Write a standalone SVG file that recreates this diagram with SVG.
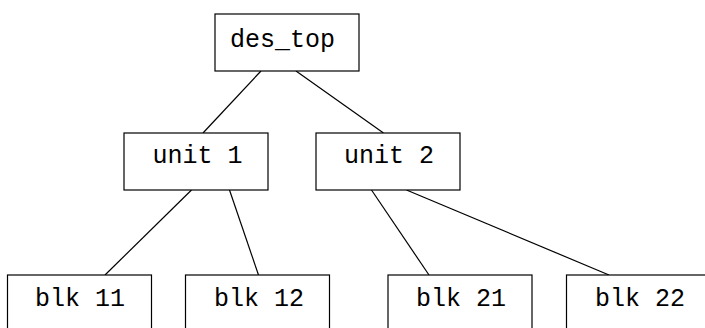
<svg xmlns="http://www.w3.org/2000/svg" width="705" height="328" viewBox="0 0 705 328">
<style>
.box{fill:#fff;stroke:#000;stroke-width:1.2}
.lbl{font-family:"Liberation Mono","Courier New",monospace;font-size:25px;fill:#000}
.conn line{stroke:#000;stroke-width:1.2}
</style>
<rect width="705" height="328" fill="#fff"/>
<g id="connectors" class="conn">
<line x1="261" y1="71" x2="203" y2="133"/>
<line x1="296" y1="71" x2="383.5" y2="133"/>
<line x1="191.5" y1="190" x2="105" y2="275"/>
<line x1="229.5" y1="190" x2="258.5" y2="275"/>
<line x1="371.5" y1="190" x2="429" y2="275"/>
<line x1="406.5" y1="190" x2="609" y2="275"/>
</g>
<g id="des_top"><rect class="box" x="215" y="14" width="144" height="57"/><text class="lbl" x="230" y="47">des_top</text></g>
<g id="unit1"><rect class="box" x="124" y="133" width="144" height="57"/><text class="lbl" x="152.5" y="163">unit 1</text></g>
<g id="unit2"><rect class="box" x="316" y="133" width="144" height="57"/><text class="lbl" x="344" y="163">unit 2</text></g>
<g id="blk11"><rect class="box" x="7.5" y="275" width="144" height="60"/><text class="lbl" x="35" y="306">blk 11</text></g>
<g id="blk12"><rect class="box" x="185.5" y="275" width="144" height="60"/><text class="lbl" x="214" y="306">blk 12</text></g>
<g id="blk21"><rect class="box" x="388" y="275" width="144" height="60"/><text class="lbl" x="416" y="306">blk 21</text></g>
<g id="blk22"><rect class="box" x="566.5" y="275" width="144" height="60"/><text class="lbl" x="595" y="306">blk 22</text></g>
</svg>
